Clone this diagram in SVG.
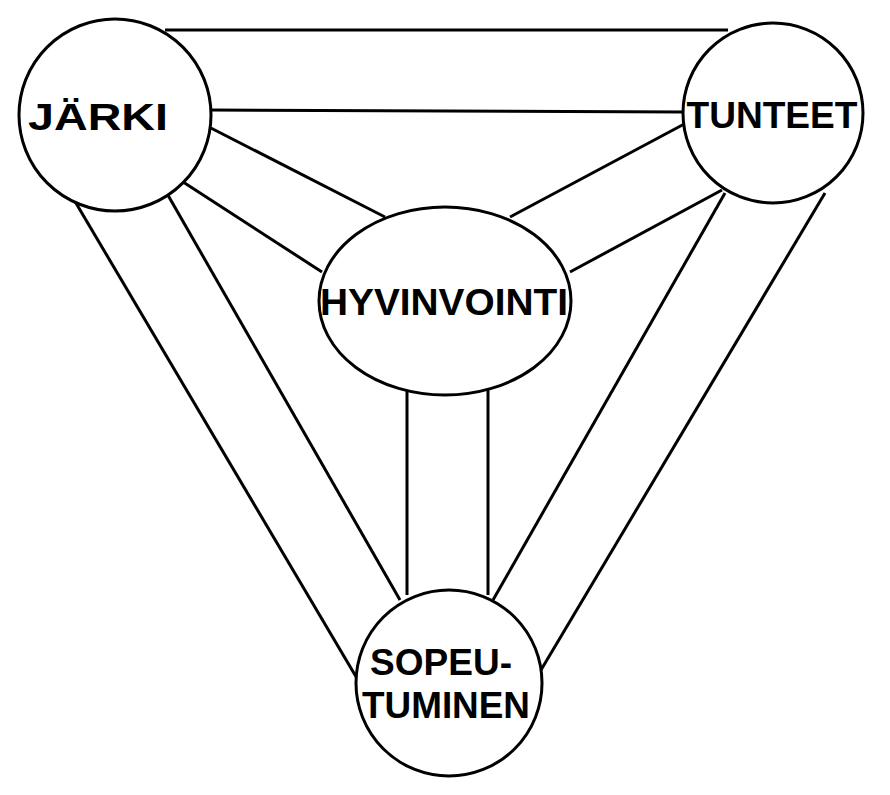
<svg xmlns="http://www.w3.org/2000/svg" width="890" height="795" viewBox="0 0 890 795">
<style>
.n{fill:#fff;stroke:#000;stroke-width:3}
.c line{stroke:#000;stroke-width:3}
text{font-family:"Liberation Sans",Arial,sans-serif;font-weight:bold;font-size:36px;text-anchor:middle;fill:#000}
</style>
<rect width="890" height="795" fill="#fff"/>
<g class="c" id="connectors">
<line x1="165" y1="30" x2="728" y2="30"/>
<line x1="210" y1="110" x2="685" y2="112"/>
<line x1="205" y1="125" x2="385" y2="217"/>
<line x1="180" y1="180" x2="322" y2="272"/>
<line x1="688" y1="122" x2="510" y2="217"/>
<line x1="722" y1="190" x2="570" y2="272"/>
<line x1="407" y1="390" x2="407" y2="595"/>
<line x1="488" y1="390" x2="488" y2="595"/>
<line x1="70" y1="193" x2="358" y2="680"/>
<line x1="165" y1="190" x2="400" y2="600"/>
<line x1="825" y1="193" x2="538" y2="675"/>
<line x1="725" y1="193" x2="493" y2="600"/>
</g>
<g id="jarki"><circle class="n" cx="115" cy="115" r="96"/><text x="98" y="130" textLength="140" lengthAdjust="spacingAndGlyphs">JÄRKI</text></g>
<g id="tunteet"><circle class="n" cx="773" cy="113" r="90"/><text x="772" y="128" textLength="171" lengthAdjust="spacingAndGlyphs">TUNTEET</text></g>
<g id="hyvinvointi"><ellipse class="n" cx="445" cy="301" rx="126" ry="94"/><text x="444" y="315" textLength="248" lengthAdjust="spacingAndGlyphs">HYVINVOINTI</text></g>
<g id="sopeutuminen"><circle class="n" cx="449" cy="683" r="93"/><text x="441" y="675" textLength="142" lengthAdjust="spacingAndGlyphs">SOPEU-</text><text x="446" y="718" textLength="168" lengthAdjust="spacingAndGlyphs">TUMINEN</text></g>
</svg>
